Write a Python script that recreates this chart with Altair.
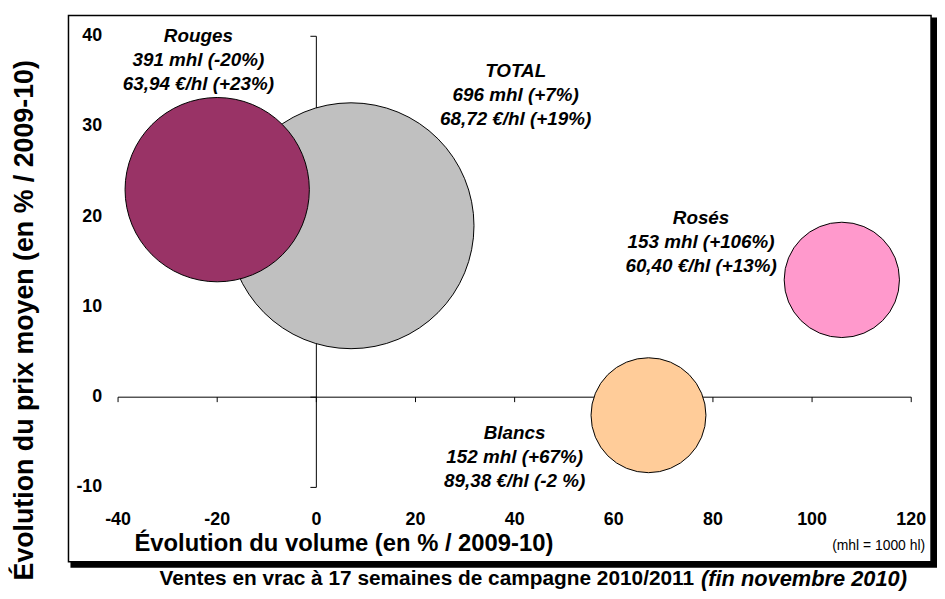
import altair as alt
import pandas as pd

# ---------------- data ----------------
wines = ["TOTAL", "Rouges", "Rosés", "Blancs"]
volume_mhl = [696, 391, 153, 152]          # bubble size
volume_change = [7, -20, 106, 67]          # x: % change in volume vs 2009-10
price_change = [19, 23, 13, -2]            # y: % change in mean price vs 2009-10
labels = [
    "TOTAL\n696 mhl (+7%)\n68,72 €/hl (+19%)",
    "Rouges\n391 mhl (-20%)\n63,94 €/hl (+23%)",
    "Rosés\n153 mhl (+106%)\n60,40 €/hl (+13%)",
    "Blancs\n152 mhl (+67%)\n89,38 €/hl (-2 %)",
]
x_ticks = [-40, -20, 0, 20, 40, 60, 80, 100, 120]
y_ticks = [-10, 0, 10, 20, 30, 40]
x_title = "Évolution du volume (en % / 2009-10)"
y_title = "Évolution du prix moyen (en % / 2009-10)"
note = "(mhl = 1000 hl)"
caption_main = "Ventes en vrac à 17 semaines de campagne 2010/2011"
caption_italic = "(fin novembre 2010)"

# ---------------- styling ----------------
colors = ["#C0C0C0", "#993366", "#FF99CC", "#FFCC99"]
label_offsets = {"TOTAL": (166, -156), "Rouges": (-19, -155),
                 "Rosés": (-142, -62), "Blancs": (-135, 18)}
FONT = "Liberation Sans"
W, H = 800, 455

df = pd.DataFrame({"wine": wines, "vol": volume_mhl, "dvol": volume_change,
                   "dprice": price_change, "label": labels})
one = pd.DataFrame({"a": [0]})
xt = pd.DataFrame({"t": x_ticks, "lab": [str(v) for v in x_ticks]})
yt = pd.DataFrame({"t": y_ticks, "lab": [str(v) for v in y_ticks]})

xs = alt.Scale(domain=[x_ticks[0], x_ticks[-1]], nice=False, zero=False)
ys = alt.Scale(domain=[y_ticks[0], y_ticks[-1]], nice=False, zero=False)

x_axis = alt.Axis(values=x_ticks, domain=False, ticks=False, grid=False, labels=False,
                  title=x_title, titleFont=FONT, titleFontSize=24, titleFontWeight="bold",
                  titleColor="black", titleX=16, titleY=64, titleAlign="left",
                  titleAnchor="start", titleBaseline="alphabetic", zindex=1)
y_axis = alt.Axis(values=y_ticks, domain=False, ticks=False, grid=False, labels=False,
                  title=y_title, titleFont=FONT, titleFontSize=27, titleFontWeight="bold",
                  titleColor="black", titleAngle=270, titleX=-94, titleY=286,
                  titleAlign="center", titleBaseline="middle", zindex=1)

# frame with shadow
shadow = alt.Chart(one).mark_rect(color="black").encode(
    x=alt.value(-48), x2=alt.value(826), y=alt.value(-19), y2=alt.value(536))
frame = alt.Chart(one).mark_rect(fill="white", stroke="black", strokeWidth=1.5).encode(
    x=alt.value(-50), x2=alt.value(820), y=alt.value(-21), y2=alt.value(530))

# axis lines crossing at zero
x_line = alt.Chart(one).mark_rule(color="black", strokeWidth=1).encode(
    x=alt.X(datum=x_ticks[0], scale=xs, axis=x_axis), x2=alt.X2(datum=x_ticks[-1]),
    y=alt.Y(datum=0, scale=ys, axis=y_axis))
y_line = alt.Chart(one).mark_rule(color="black", strokeWidth=1).encode(
    y=alt.Y(datum=y_ticks[0], scale=ys, axis=y_axis), y2=alt.Y2(datum=y_ticks[-1]),
    x=alt.X(datum=0, scale=xs, axis=x_axis))
x_tick_marks = alt.Chart(xt).mark_rule(color="black", y2Offset=5).encode(
    x=alt.X("t:Q", scale=xs, axis=x_axis), y=alt.Y(datum=0, scale=ys, axis=y_axis),
    y2=alt.Y2(datum=0))
y_tick_marks = alt.Chart(yt).mark_rule(color="black", x2Offset=-6).encode(
    y=alt.Y("t:Q", scale=ys, axis=y_axis), x=alt.X(datum=0, scale=xs, axis=x_axis),
    x2=alt.X2(datum=0))

# tick labels along the frame edges
x_tick_labels = alt.Chart(xt).mark_text(align="center", baseline="middle", font=FONT,
                                        fontSize=18, fontWeight="bold", color="black").encode(
    x=alt.X("t:Q", scale=xs, axis=x_axis), y=alt.value(H + 33), text="lab:N")
y_tick_labels = alt.Chart(yt).mark_text(align="right", baseline="middle", font=FONT,
                                        fontSize=18, fontWeight="bold", color="black").encode(
    y=alt.Y("t:Q", scale=ys, axis=y_axis), x=alt.value(-16), text="lab:N")

bubbles = alt.Chart(df).mark_circle(opacity=1, stroke="black", strokeWidth=1).encode(
    x=alt.X("dvol:Q", scale=xs, axis=x_axis),
    y=alt.Y("dprice:Q", scale=ys, axis=y_axis),
    size=alt.Size("vol:Q", scale=alt.Scale(domain=[0, 696], range=[0, 61504]), legend=None),
    color=alt.Color("wine:N", scale=alt.Scale(domain=wines, range=colors), legend=None),
)

label_layers = []
for w in wines:
    dx, dy = label_offsets[w]
    label_layers.append(
        alt.Chart(df).transform_filter(alt.datum.wine == w).mark_text(
            dx=dx, dy=dy, align="center", baseline="middle", lineBreak="\n",
            lineHeight=24, font=FONT, fontSize=19, fontWeight="bold",
            fontStyle="italic", color="black").encode(
            x=alt.X("dvol:Q", scale=xs, axis=x_axis),
            y=alt.Y("dprice:Q", scale=ys, axis=y_axis),
            text="label:N"))

note_text = alt.Chart(one).mark_text(align="right", baseline="middle", font=FONT,
                                     fontSize=14, color="black").encode(
    x=alt.value(814), y=alt.value(514), text=alt.value(note))
cap1 = alt.Chart(one).mark_text(align="right", baseline="middle", font=FONT,
                                fontSize=21, fontWeight="bold", color="black").encode(
    x=alt.value(581), y=alt.value(547), text=alt.value(caption_main))
cap2 = alt.Chart(one).mark_text(align="left", baseline="middle", font=FONT,
                                fontSize=22, fontWeight="bold", fontStyle="italic",
                                color="black").encode(
    x=alt.value(588), y=alt.value(547), text=alt.value(caption_italic))

chart = alt.layer(
    shadow, frame, x_line, y_line, x_tick_marks, y_tick_marks, bubbles,
    *label_layers, x_tick_labels, y_tick_labels, note_text, cap1, cap2
).properties(
    width=W, height=H,
    autosize=alt.AutoSizeParams(type="none"),
    padding={"left": 111, "top": 26, "right": 26, "bottom": 106},
).configure_view(stroke=None)

chart.save("out.html", embed_options={"renderer": "svg", "actions": False})
